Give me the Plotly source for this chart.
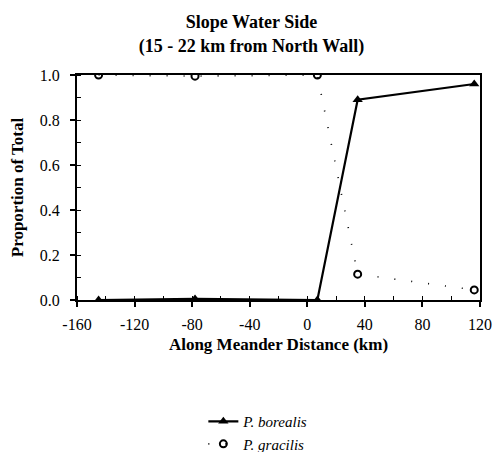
import plotly.graph_objects as go

# Data
distance_km = [-145, -78, 7, 35, 116]
borealis = [0.0, 0.005, 0.0, 0.89, 0.96]
gracilis = [1.0, 0.995, 1.0, 0.115, 0.045]

x_ticks = [-160, -120, -80, -40, 0, 40, 80, 120]
y_ticks = [0.0, 0.2, 0.4, 0.6, 0.8, 1.0]

FONT = "Liberation Serif"

fig = go.Figure()
fig.add_trace(go.Scatter(
    x=distance_km, y=borealis, mode="lines+markers",
    name="<i>P. borealis</i>",
    line=dict(color="black", width=2.2),
    marker=dict(symbol="triangle-up", size=9, color="black"),
))
fig.add_trace(go.Scatter(
    x=distance_km, y=gracilis, mode="lines+markers",
    name="<i>P. gracilis</i>",
    line=dict(color="black", width=1.6, dash="1px,16px"),
    marker=dict(symbol="circle-open", size=7, color="black", line=dict(width=2)),
))

fig.update_layout(
    width=498, height=452,
    margin=dict(l=77, r=18, t=75, b=152, autoexpand=False),
    paper_bgcolor="white", plot_bgcolor="white",
    font=dict(family=FONT, color="black", size=15),
    title=dict(
        text="<b>Slope Water Side<br>(15 - 22 km from North Wall)</b>",
        x=0.505, xanchor="center", y=0.937, yanchor="middle",
        font=dict(family=FONT, size=18, color="black"),
    ),
    showlegend=True,
    legend=dict(
        x=0.45, xanchor="center",
        y=-0.467, yanchor="top",
        font=dict(family=FONT, size=15, color="black"),
        tracegroupgap=0,
        bgcolor="rgba(0,0,0,0)",
    ),
)

fig.update_xaxes(
    range=[-160, 120], tickvals=x_ticks, ticktext=[str(v) for v in x_ticks],
    showgrid=False, zeroline=False,
    showline=True, linecolor="black", linewidth=2, mirror=True,
    ticks="outside", ticklen=5, tickwidth=1.5, tickcolor="black",
    ticklabelstandoff=4,
    minor=dict(dtick=20, tick0=0, ticks="inside", ticklen=4, tickcolor="black", tickwidth=1.2, showgrid=False),
    tickfont=dict(family=FONT, size=16),
    title=dict(text="<b>Along Meander Distance (km)</b>", font=dict(family=FONT, size=17), standoff=6),
)
fig.update_yaxes(
    range=[0, 1.0], tickvals=y_ticks, tickformat=".1f",
    showgrid=False, zeroline=False,
    showline=True, linecolor="black", linewidth=2, mirror=True,
    ticks="outside", ticklen=5, tickwidth=1.5, tickcolor="black",
    ticklabelstandoff=7,
    minor=dict(dtick=0.1, ticks="inside", ticklen=4, tickcolor="black", tickwidth=1.2, showgrid=False),
    tickfont=dict(family=FONT, size=16),
    title=dict(text="<b>Proportion of Total</b>", font=dict(family=FONT, size=17), standoff=12),
)

fig.write_html("out.html", config={"displayModeBar": False},
               post_script="document.body.style.margin='0';")
